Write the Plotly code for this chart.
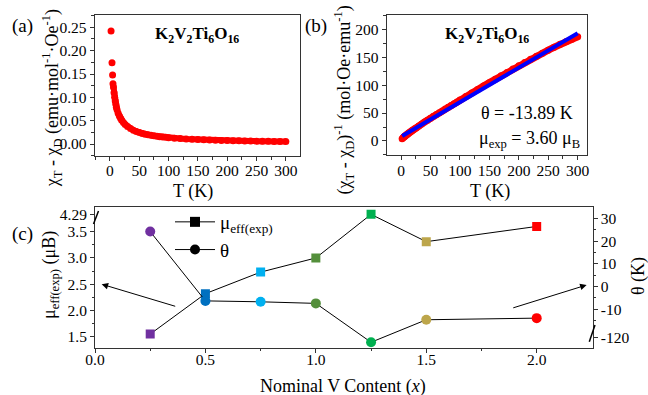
import plotly.graph_objects as go

# ---------------- data ----------------
# panel (a)/(b): susceptibility of K2V2Ti6O16
T_K = [1.9, 3.5, 4.5, 5.2, 6, 7, 8, 9, 10, 11, 12, 14, 16, 18, 20, 23, 26, 30, 35, 40,
       45, 50, 55, 60, 65, 70, 75, 80, 85, 90, 95, 100, 110, 120, 130, 140, 150, 160,
       170, 180, 190, 200, 210, 220, 230, 240, 250, 260, 270, 280, 290, 300]
chi = [0.242, 0.174, 0.148, 0.129, 0.122, 0.110, 0.100, 0.092, 0.085, 0.079, 0.074,
       0.066, 0.060, 0.055, 0.051, 0.046, 0.042, 0.0375, 0.0330, 0.0295, 0.0268,
       0.02457, 0.02268, 0.02112, 0.01976, 0.01855, 0.01748, 0.01653, 0.01570,
       0.01497, 0.01429, 0.01366, 0.01256, 0.01166, 0.01086, 0.01016, 0.00957,
       0.00904, 0.00857, 0.00815, 0.00776, 0.00742, 0.00712, 0.00684, 0.00659,
       0.00636, 0.00615, 0.00596, 0.00578, 0.00563, 0.00549, 0.00536]
# Curie-Weiss fit line (panel b)
fit_T = [2, 300]
fit_inv = [9.0, 193.0]

# panel (c)
x_content = [0.25, 0.5, 0.75, 1.0, 1.25, 1.5, 2.0]
mu_eff = [1.55, 2.32, 2.73, 3.00, 4.29, 3.31, 3.60]
theta = [24.2, -6.3, -6.7, -7.4, -122.1, -14.6, -13.89]
point_colors = ['#7030A0', '#0070C0', '#00B0F0', '#548F3B', '#00B050', '#BDA64B', '#FF0000']

T_ticks = [0, 50, 100, 150, 200, 250, 300]
chi_ticks = [0, 0.05, 0.10, 0.15, 0.20, 0.25]
inv_ticks = [0, 50, 100, 150, 200]
x_ticks = [0, 0.5, 1.0, 1.5, 2.0]
x_minor = [0.25, 0.75, 1.25, 1.75]
mu_ticks = [1.5, 2.0, 2.5, 3.0, 3.5, 4.29]
mu_tick_text = ['1.5', '2.0', '2.5', '3.0', '3.5', '4.29']
mu_minor = [1.75, 2.25, 2.75, 3.25]
th_ticks = [30, 20, 10, 0, -10, -120]
th_tick_text = ['30', '20', '10', '0', '-10', '-120']
th_minor = [25, 15, 5, -5, -15]

# broken-axis scale parameters
MU_BREAK, MU_SHIFT = 3.9, 0.46
TH_BREAK, TH_SHIFT = -50, 97.59


def mu_axis(v):
    return v - MU_SHIFT if v > MU_BREAK else v


def th_axis(v):
    return v + TH_SHIFT if v < TH_BREAK else v


# ---------------- figure ----------------
W, H = 648, 395
FONT = "'Liberation Serif', 'Times New Roman', Times, serif"


def px(x):
    return x / W


def py(y):
    return 1 - y / H


fig = go.Figure()

# panel (a)
fig.add_trace(go.Scatter(x=[t for t in T_K if t >= 6], y=[c for t, c in zip(T_K, chi) if t >= 6],
                         mode='lines', line=dict(color='#FF0000', width=6),
                         xaxis='x', yaxis='y', showlegend=False, hoverinfo='skip'))
fig.add_trace(go.Scatter(x=T_K, y=chi, mode='markers', marker=dict(color='#FF0000', size=7),
                         xaxis='x', yaxis='y', showlegend=False))

# panel (b)
chi_inv = [1.0 / c for c in chi]
fig.add_trace(go.Scatter(x=[t for t in T_K if t >= 6], y=[c for t, c in zip(T_K, chi_inv) if t >= 6],
                         mode='lines', line=dict(color='#FF0000', width=7),
                         xaxis='x2', yaxis='y2', showlegend=False, hoverinfo='skip'))
fig.add_trace(go.Scatter(x=T_K, y=chi_inv, mode='markers', marker=dict(color='#FF0000', size=7),
                         xaxis='x2', yaxis='y2', showlegend=False))
fig.add_trace(go.Scatter(x=fit_T, y=fit_inv, mode='lines', line=dict(color='#0000FF', width=4),
                         xaxis='x2', yaxis='y2', showlegend=False))

# panel (c)
fig.add_trace(go.Scatter(x=x_content, y=[mu_axis(v) for v in mu_eff], mode='lines+markers',
                         line=dict(color='black', width=1),
                         marker=dict(symbol='square', size=9, color=point_colors),
                         xaxis='x3', yaxis='y3', showlegend=False))
fig.add_trace(go.Scatter(x=x_content, y=[th_axis(v) for v in theta], mode='lines+markers',
                         line=dict(color='black', width=1),
                         marker=dict(symbol='circle', size=10, color=point_colors),
                         xaxis='x3', yaxis='y4', showlegend=False))
# legend entries
fig.add_trace(go.Scatter(x=[None], y=[None], mode='lines+markers', name='μ<sub>eff(exp)</sub>',
                         line=dict(color='black', width=1),
                         marker=dict(symbol='square', size=10, color='black'),
                         xaxis='x3', yaxis='y3', legendgroup='a'))
fig.add_trace(go.Scatter(x=[None], y=[None], mode='lines+markers', name='θ',
                         line=dict(color='black', width=1),
                         marker=dict(symbol='circle', size=10, color='black'),
                         xaxis='x3', yaxis='y3', legendgroup='b'))

tickfont = dict(family=FONT, size=15.5, color='black')
axcommon = dict(showgrid=False, zeroline=False, showline=True, linecolor='#333', linewidth=1,
                ticks='outside', ticklen=4, tickwidth=1, tickcolor='#333', tickfont=tickfont,
                automargin=False)
minor_out = dict(ticks='outside', ticklen=2.5, tickwidth=1, tickcolor='#333')
minor_in = dict(ticks='inside', ticklen=2.5, tickwidth=1, tickcolor='#333')
top_common = dict(showgrid=False, zeroline=False, showline=False, ticks='inside', ticklen=4,
                  tickwidth=1, tickcolor='#333', showticklabels=False, side='top',
                  automargin=False)

fig.update_layout(
    template='none',
    width=W, height=H, margin=dict(l=0, r=0, t=0, b=0, pad=0, autoexpand=False),
    paper_bgcolor='white', plot_bgcolor='white',
    font=dict(family=FONT, size=16, color='black'),
    showlegend=True,
    legend=dict(x=px(170), y=py(203), xanchor='left', yanchor='top',
                bgcolor='rgba(0,0,0,0)', font=dict(family=FONT, size=19, color='black'),
                tracegroupgap=0, itemwidth=40),
    xaxis=dict(domain=[px(94.7), px(299.5)], anchor='y', range=[-26, 323.3], mirror=True,
               tickvals=T_ticks, ticklabelstandoff=-4,
               minor=dict(dtick=25, tick0=0, **minor_out), **axcommon),
    yaxis=dict(domain=[py(156), py(15)], anchor='x', range=[-0.0257, 0.2764], mirror=True,
               tickvals=chi_ticks, tickformat='.2f',
               minor=dict(dtick=0.025, tick0=0, **minor_out), **axcommon),
    xaxis2=dict(domain=[px(386.7), px(586.7)], anchor='y2', range=[-24.3, 315.3], mirror=True,
                tickvals=T_ticks, ticklabelstandoff=-3,
                minor=dict(dtick=25, tick0=0, **minor_out), **axcommon),
    yaxis2=dict(domain=[py(155), py(15)], anchor='x2', range=[-25.1, 225.6], mirror=True,
                tickvals=inv_ticks,
                minor=dict(dtick=25, tick0=0, **minor_out), **axcommon),
    xaxis3=dict(domain=[px(95), px(592.7)], anchor='y3', range=[0, 2.2536], mirror=True,
                tickvals=x_ticks, tickformat='.1f', ticklabelstandoff=-6,
                minor=dict(tickvals=x_minor, **minor_out), **axcommon),
    yaxis3=dict(domain=[py(347.7), py(206.7)], anchor='x3', range=[1.2905, 3.976],
                tickvals=[mu_axis(v) for v in mu_ticks], ticktext=mu_tick_text,
                minor=dict(tickvals=mu_minor, **minor_out), **axcommon),
    yaxis4=dict(overlaying='y3', anchor='x3', side='right', range=[-26.9, 35.15],
                tickvals=[th_axis(v) for v in th_ticks], ticktext=th_tick_text,
                minor=dict(tickvals=th_minor, **minor_out), **axcommon),
    # inward ticks on the top frame of each panel
    xaxis4=dict(overlaying='x', anchor='y', range=[-26, 323.3], tickvals=T_ticks,
                minor=dict(dtick=25, tick0=0, **minor_in), **top_common),
    xaxis5=dict(overlaying='x2', anchor='y2', range=[-24.3, 315.3], tickvals=T_ticks,
                minor=dict(dtick=25, tick0=0, **minor_in), **top_common),
    xaxis6=dict(overlaying='x3', anchor='y3', range=[0, 2.2536], tickvals=x_ticks,
                minor=dict(tickvals=x_minor, **minor_in), **top_common),
)

ann = []


def label(text, x, y, size=18, angle=0, **kw):
    ann.append(dict(text=text, x=px(x), y=py(y), xref='paper', yref='paper',
                    showarrow=False, xanchor='center', yanchor='middle', textangle=angle,
                    font=dict(family=FONT, size=size, color='black'), **kw))


label('(a)', 22, 26, size=19)
label('(b)', 316, 26, size=19)
label('(c)', 22, 234, size=19)
title = '<b>K<sub>2</sub>V<sub>2</sub>Ti<sub>6</sub>O<sub>16</sub></b>'
label(title, 196.7, 35, size=17)
label(title, 486.7, 35, size=17)
label('χ<sub>T</sub> - χ<sub>D</sub> (emu·mol<sup>-1</sup>·Oe<sup>-1</sup>)', 51.7, 98.5, angle=-90)
label('T (K)', 192.5, 191.7)
label('(χ<sub>T</sub> - χ<sub>D</sub>)<sup>-1</sup> (mol·Oe·emu<sup>-1</sup>)', 343.5, 100, angle=-90)
label('T (K)', 490, 191.7)
label('θ = -13.89 K', 526.7, 113)
label('μ<sub>exp</sub> = 3.60 μ<sub>B</sub>', 529, 139)
label('μ<sub>eff(exp)</sub> (μB)', 50, 275, angle=-90)
label('θ (K)', 638, 276, angle=-90)
label('Nominal V Content (<i>x</i>)', 343.4, 386.7)

# arrows pointing to the relevant axes
ann.append(dict(x=0.03, y=2.5, ax=0.37, ay=2.071, xref='x3', yref='y3', axref='x3', ayref='y3',
                text='', showarrow=True, arrowhead=2, arrowsize=1.3, arrowwidth=1, arrowcolor='black'))
ann.append(dict(x=2.226, y=0.69, ax=1.887, ay=-9.56, xref='x3', yref='y4', axref='x3', ayref='y4',
                text='', showarrow=True, arrowhead=2, arrowsize=1.3, arrowwidth=1, arrowcolor='black'))
fig.update_layout(annotations=ann)

# axis-break marks
fig.add_shape(type='line', xref='paper', yref='paper', x0=px(93.5), y0=py(224), x1=px(98.5), y1=py(211),
              line=dict(color='black', width=1.5))
fig.add_shape(type='line', xref='paper', yref='paper', x0=px(589.3), y0=py(341.7), x1=px(595), y1=py(325),
              line=dict(color='black', width=1.5))

fig.write_html('out.html')
